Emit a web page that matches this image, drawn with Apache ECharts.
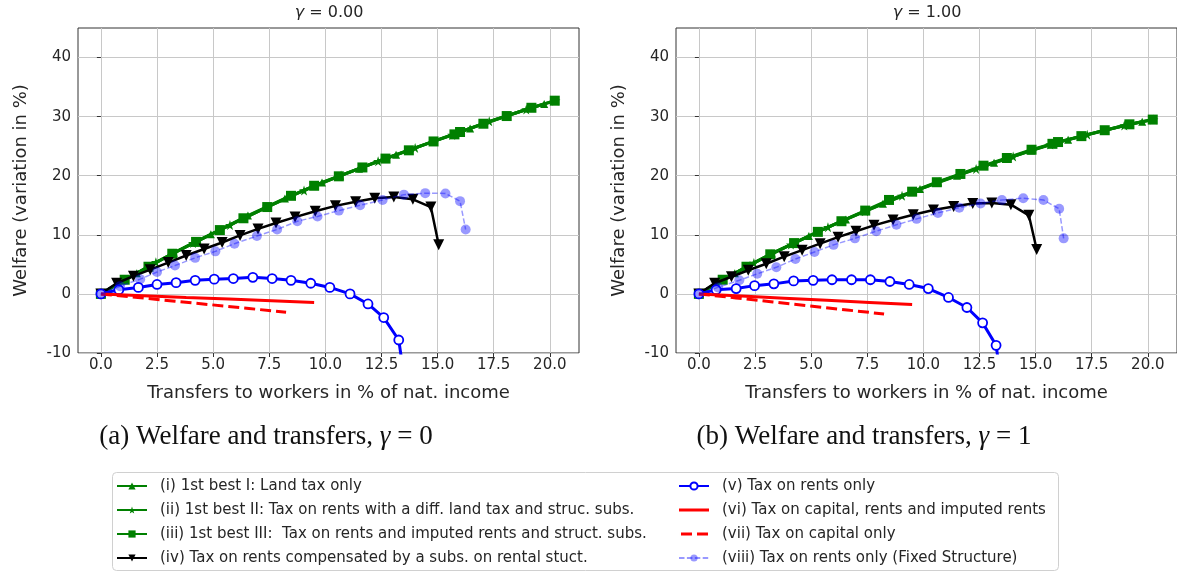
<!DOCTYPE html>
<html>
<head>
<meta charset="utf-8">
<script src="https://cdn.jsdelivr.net/npm/echarts@6/dist/echarts.min.js"></script>
<style>
html, body { margin: 0; padding: 0; background: #fff; }
#chart { width: 1177px; height: 573px; }
</style>
</head>
<body>
<div id="chart"></div>
<script>
// Axis ticks shared by both panels
const xTicks = [0, 2.5, 5, 7.5, 10, 12.5, 15, 17.5, 20];
const yTicks = [-10, 0, 10, 20, 30, 40];

const panelTitles = ['0.00', '1.00'];
const captions = [['(a) Welfare and transfers, ', ' = 0'], ['(b) Welfare and transfers, ', ' = 1']];

const names = [
  '(i) 1st best I: Land tax only',
  '(ii) 1st best II: Tax on rents with a diff. land tax and struc. subs.',
  '(iii) 1st best III:  Tax on rents and imputed rents and struct. subs.',
  '(iv) Tax on rents compensated by a subs. on rental stuct.',
  '(v) Tax on rents only',
  '(vi) Tax on capital, rents and imputed rents',
  '(vii) Tax on capital only',
  '(viii) Tax on rents only (Fixed Structure)'
];

// ---- gamma = 0 ----
const g0_best1 = [[0,0],[1.6,3.5],[3.25,6.95],[4.9,10.1],[6.55,13.25],[8.2,16.15],[9.85,18.85],[11.5,21.2],[13.15,23.55],[14.8,25.8],[16.45,28.0],[18.1,30.15],[19.75,32.15]];
const g0_best2 = [[0,0],[0.82,1.85],[2.45,5.35],[4.1,8.6],[5.75,11.65],[7.4,14.7],[9.05,17.5],[10.7,20.05],[12.35,22.45],[14.0,24.7],[15.65,26.9],[17.3,29.2],[18.95,31.2],[20.25,32.7]];
const g0_best3 = [[0,0],[1.06,2.4],[2.12,4.6],[3.18,6.8],[4.24,8.8],[5.3,10.8],[6.35,12.8],[7.41,14.7],[8.47,16.6],[9.5,18.3],[10.6,19.9],[11.65,21.4],[12.68,22.9],[13.72,24.3],[14.82,25.8],[15.75,27.0],[16.0,27.4],[17.04,28.8],[18.08,30.1],[19.18,31.5],[20.22,32.7]];
const g0_subs = [[0,0],[0.7,1.8],[1.45,3.0],[2.2,4.1],[3.0,5.3],[3.8,6.5],[4.6,7.6],[5.4,8.7],[6.2,9.9],[7.0,11.0],[7.8,12.0],[8.65,13.0],[9.55,14.0],[10.45,14.9],[11.35,15.6],[12.2,16.2],[13.05,16.4],[13.9,16.0],[14.7,14.7],[15.05,8.3]];
const g0_rents = [[0,0],[0.8,0.7],[1.67,1.1],[2.5,1.6],[3.35,1.9],[4.2,2.3],[5.05,2.5],[5.9,2.6],[6.77,2.8],[7.63,2.6],[8.47,2.3],[9.35,1.8],[10.2,1.1],[11.1,0.0],[11.9,-1.7],[12.6,-4.0],[13.27,-7.8],[13.45,-12.5]];
const g0_capAll = [[0,0],[1.9,-0.3],[3.8,-0.6],[5.7,-0.88],[7.6,-1.17],[9.5,-1.45]];
const g0_capOnly = [[0,0],[1.65,-0.6],[3.3,-1.23],[4.95,-1.85],[6.6,-2.47],[8.25,-3.1]];
const g0_fixed = [[0,0],[0.85,1.3],[1.75,2.5],[2.5,3.7],[3.3,4.8],[4.2,6.1],[5.1,7.2],[5.95,8.5],[6.95,9.8],[7.85,10.9],[8.75,12.3],[9.65,13.1],[10.6,14.1],[11.55,15.0],[12.55,15.9],[13.5,16.8],[14.45,17.05],[15.35,17.0],[16.0,15.7],[16.25,10.9]];

// ---- gamma = 1 ----
const g1_best1 = [[0,0],[1.6,3.5],[3.25,6.85],[4.9,9.8],[6.55,12.6],[8.2,15.25],[9.85,17.75],[11.5,20.0],[13.15,22.2],[14.8,24.25],[16.45,26.1],[18.1,27.7],[19.75,29.15]];
const g1_best2 = [[0,0],[0.82,1.85],[2.45,5.25],[4.1,8.35],[5.75,11.3],[7.4,14.0],[9.05,16.6],[10.7,18.95],[12.35,21.15],[14.0,23.25],[15.65,25.3],[17.3,26.95],[18.95,28.5],[20.25,29.5]];
const g1_best3 = [[0,0],[1.06,2.4],[2.12,4.6],[3.18,6.7],[4.24,8.6],[5.3,10.5],[6.35,12.3],[7.41,14.1],[8.47,15.9],[9.5,17.3],[10.6,18.9],[11.65,20.3],[12.68,21.7],[13.72,23.0],[14.82,24.4],[15.75,25.4],[16.0,25.7],[17.04,26.7],[18.08,27.7],[19.18,28.7],[20.22,29.5]];
const g1_subs = [[0,0],[0.7,1.8],[1.45,2.9],[2.2,4.0],[3.0,5.1],[3.8,6.3],[4.6,7.4],[5.4,8.5],[6.2,9.6],[7.0,10.6],[7.8,11.6],[8.65,12.5],[9.55,13.4],[10.45,14.2],[11.35,14.8],[12.2,15.3],[13.05,15.4],[13.9,15.1],[14.7,13.3],[15.05,7.5]];
const g1_rents = [[0,0],[0.77,0.7],[1.66,0.9],[2.48,1.4],[3.34,1.7],[4.22,2.2],[5.09,2.3],[5.93,2.4],[6.8,2.4],[7.64,2.4],[8.51,2.1],[9.37,1.6],[10.22,0.9],[11.12,-0.6],[11.94,-2.3],[12.64,-4.9],[13.24,-8.7],[13.4,-13.0]];
const g1_capAll = [[0,0],[1.9,-0.36],[3.8,-0.72],[5.7,-1.08],[7.6,-1.44],[9.5,-1.8]];
const g1_capOnly = [[0,0],[1.65,-0.68],[3.3,-1.36],[4.95,-2.04],[6.6,-2.72],[8.25,-3.4]];
const g1_fixed = [[0,0],[0.85,1.1],[1.8,2.3],[2.6,3.4],[3.45,4.5],[4.3,5.9],[5.15,7.1],[6.0,8.3],[6.95,9.4],[7.9,10.6],[8.8,11.7],[9.7,12.7],[10.65,13.7],[11.6,14.6],[12.55,15.3],[13.5,15.9],[14.45,16.2],[15.35,15.9],[16.05,14.4],[16.25,9.4]];

const panels = [
  [g0_best1, g0_best2, g0_best3, g0_subs, g0_rents, g0_capAll, g0_capOnly, g0_fixed],
  [g1_best1, g1_best2, g1_best3, g1_subs, g1_rents, g1_capAll, g1_capOnly, g1_fixed]
];

const STAR = 'path://M50,0 L61.2,34.5 L97.6,34.5 L68.2,55.9 L79.4,90.5 L50,69.1 L20.6,90.5 L31.8,55.9 L2.4,34.5 L38.8,34.5 Z';
// plain-line legend keys for the series drawn without markers
const KEY_SOLID = 'path://M0,0 H30 V3 H0 Z';
const KEY_DASHED = 'path://M2,0 H13 V3 H2 Z M18,0 H29 V3 H18 Z M0,0 H0.01 V3 H0 Z M30,0 H30.01 V3 H30 Z';

// Visual style of each policy, in the order of `names`
const styles = [
  { color: '#008000', width: 3, symbol: 'triangle', size: 8 },
  { color: '#008000', width: 3, symbol: STAR, size: 10 },
  { color: '#008000', width: 3, symbol: 'rect', size: 10 },
  { color: '#000000', width: 2.5, symbol: 'triangle', size: 11, rotate: 180 },
  { color: '#0000ff', width: 3, symbol: 'circle', size: 9, hollow: true },
  { color: '#ff0000', width: 3, symbol: 'none', key: KEY_SOLID },
  { color: '#ff0000', width: 3, symbol: 'none', dash: [11, 5], key: KEY_DASHED },
  { color: '#0000ff', width: 1.5, symbol: 'circle', size: 10, dash: [5.5, 2.4], alpha: 0.4 }
];

const grids = [
  { left: 78, top: 28, width: 501, height: 325 },
  { left: 676, top: 28, width: 502, height: 325 }
];

const axisText = { color: '#262626', fontFamily: 'DejaVu Sans', fontSize: 15 };
const nameText = { color: '#262626', fontFamily: 'DejaVu Sans', fontSize: 18 };

const xAxes = grids.map((g, i) => ({
  type: 'value', gridIndex: i, min: -1.02, max: 21.3,
  name: 'Transfers to workers in % of nat. income',
  nameLocation: 'middle', nameGap: 31, nameTextStyle: nameText,
  axisLine: { show: false, onZero: false },
  axisTick: { show: true, length: 4, customValues: xTicks, lineStyle: { color: '#333' } },
  axisLabel: { customValues: xTicks, margin: 5, formatter: v => v.toFixed(1), ...axisText },
  splitLine: { show: true, lineStyle: { color: '#c8c8c8', width: 1 } }
}));

const yAxes = grids.map((g, i) => ({
  type: 'value', gridIndex: i, min: -10, max: 45,
  name: 'Welfare (variation in %)',
  nameLocation: 'middle', nameGap: 48, nameTextStyle: nameText,
  axisLine: { show: false },
  axisTick: { show: true, length: 4, customValues: yTicks, lineStyle: { color: '#333' } },
  axisLabel: { customValues: yTicks, margin: 7, ...axisText },
  splitLine: { show: true, lineStyle: { color: '#c8c8c8', width: 1 } }
}));

const series = [];
panels.forEach((sets, p) => {
  sets.forEach((data, k) => {
    const s = styles[k];
    series.push({
      type: 'line', name: names[k], xAxisIndex: p, yAxisIndex: p,
      data: data, clip: true, smooth: false,
      symbol: s.symbol, symbolSize: s.size || 0, symbolRotate: s.rotate || 0,
      showSymbol: s.symbol !== 'none',
      lineStyle: { color: s.color, width: s.width, type: s.dash || 'solid', opacity: s.alpha || 1 },
      itemStyle: s.hollow
        ? { color: '#ffffff', borderColor: s.color, borderWidth: 1.8 }
        : { color: s.color, opacity: s.alpha || 1, borderWidth: 0 },
      emphasis: { disabled: true },
      z: 2 + k
    });
  });
});

const legendText = { color: '#262626', fontFamily: 'DejaVu Sans', fontSize: 15, lineHeight: 18, padding: [0, 0, 0, 8] };
const legendData = names.map((n, k) => styles[k].key ? { name: n, icon: styles[k].key } : { name: n });

const graphics = [];
// panel titles
grids.forEach((g, i) => {
  graphics.push({
    type: 'text', x: g.left + 251, y: 13,
    style: {
      text: '{g|γ} = ' + panelTitles[i], align: 'center', verticalAlign: 'middle',
      fill: '#262626', font: '16px "DejaVu Sans"',
      rich: { g: { fontStyle: 'italic', fontFamily: 'DejaVu Sans', fontSize: 16, fill: '#262626' } }
    }
  });
});
// sub-figure captions
[266, 864].forEach((cx, i) => {
  graphics.push({
    type: 'text', x: cx, y: 437,
    style: {
      text: captions[i][0] + '{g|γ}' + captions[i][1], align: 'center', verticalAlign: 'middle',
      fill: '#111', font: '27px "Liberation Serif"',
      rich: { g: { fontStyle: 'italic', fontFamily: 'Liberation Serif', fontSize: 27, fill: '#111' } }
    }
  });
});
// legend frame
graphics.push({
  type: 'rect', shape: { x: 112.5, y: 472.5, width: 946, height: 98, r: 4 },
  style: { fill: '#fff', stroke: '#d0d0d0', lineWidth: 1 }, z: -1
});

const legendBase = {
  type: 'plain', orient: 'vertical', top: 477, height: 110, width: 480,
  itemWidth: 30, itemHeight: 9, itemGap: 6, padding: 0,
  selectedMode: false, textStyle: legendText
};

const option = {
  animation: false,
  backgroundColor: '#ffffff',
  grid: grids.map(g => ({ ...g, show: true, borderColor: '#333', borderWidth: 1, backgroundColor: 'transparent' })),
  xAxis: xAxes,
  yAxis: yAxes,
  legend: [
    { ...legendBase, left: 116, data: legendData.slice(0, 4) },
    { ...legendBase, left: 678, data: legendData.slice(4) }
  ],
  graphic: graphics,
  series: series
};

const chart = echarts.init(document.getElementById('chart'), null, { renderer: 'canvas' });
chart.setOption(option);
</script>
</body>
</html>
